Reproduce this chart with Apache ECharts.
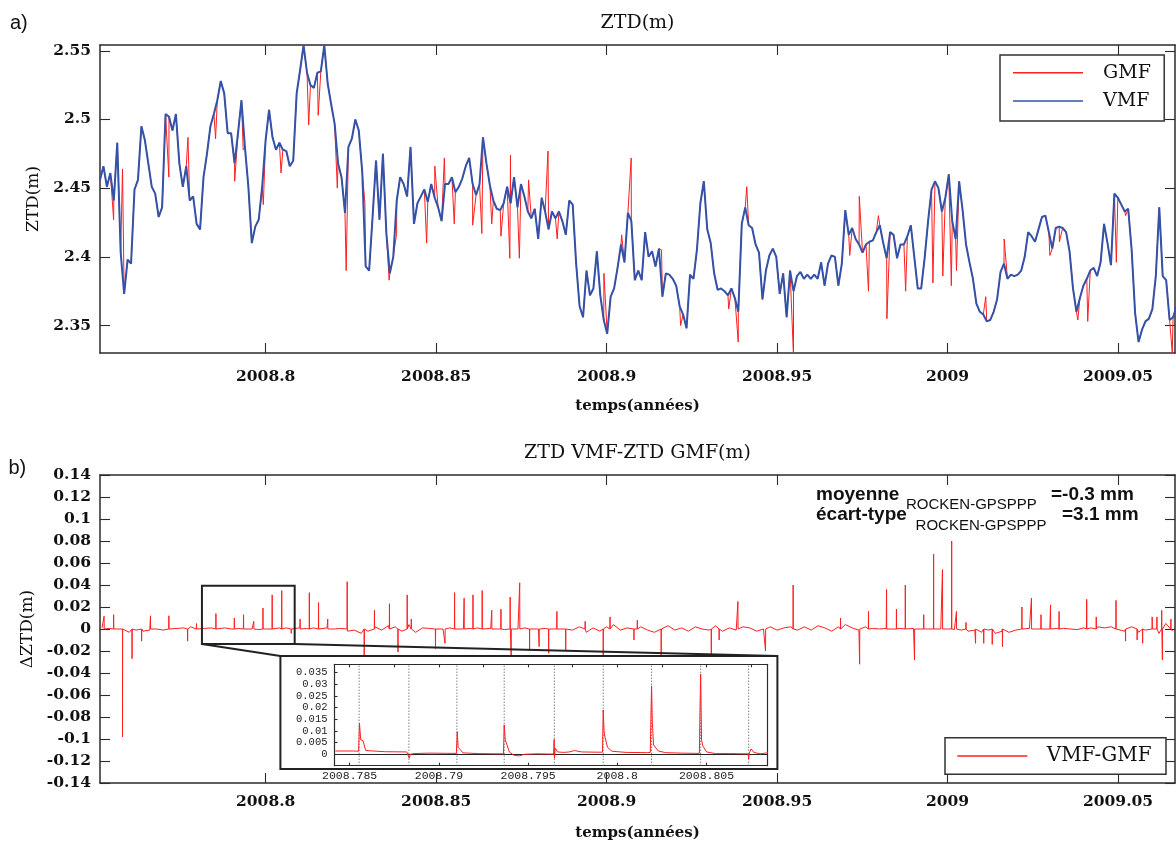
<!DOCTYPE html>
<html><head><meta charset="utf-8">
<script src="https://cdn.jsdelivr.net/npm/echarts@6/dist/echarts.min.js"></script>
<style>html,body{margin:0;padding:0;background:#fff}#c{width:1176px;height:854px}</style>
</head><body><div id="c"></div>
<script>
// ---- data ----
const T0 = 2008.7514, DT = 0.001012;
const vmf = [
2.456,2.466,2.451,2.461,2.441,2.483,2.403,2.373,2.398,2.395,
2.449,2.456,2.495,2.485,2.468,2.451,2.446,2.429,2.436,2.504,
2.502,2.492,2.504,2.468,2.451,2.466,2.441,2.444,2.424,2.420,
2.458,2.475,2.495,2.504,2.514,2.528,2.519,2.490,2.490,2.468,
2.490,2.514,2.480,2.451,2.410,2.422,2.427,2.451,2.485,2.507,
2.487,2.478,2.483,2.478,2.477,2.466,2.470,2.519,2.536,2.554,
2.534,2.525,2.523,2.534,2.535,2.554,2.526,2.511,2.497,2.468,
2.458,2.432,2.480,2.486,2.500,2.492,2.462,2.393,2.390,2.429,
2.470,2.427,2.475,2.417,2.388,2.400,2.441,2.458,2.453,2.444,
2.480,2.424,2.439,2.444,2.449,2.440,2.453,2.443,2.436,2.426,
2.453,2.453,2.458,2.447,2.451,2.457,2.466,2.472,2.453,2.445,
2.453,2.487,2.468,2.452,2.441,2.435,2.434,2.439,2.451,2.439,
2.458,2.436,2.453,2.444,2.433,2.428,2.435,2.413,2.443,2.433,
2.420,2.433,2.428,2.433,2.426,2.416,2.441,2.438,2.395,2.364,
2.356,2.390,2.372,2.377,2.404,2.372,2.354,2.344,2.371,2.377,
2.392,2.409,2.396,2.432,2.426,2.383,2.390,
2.383,2.418,2.400,2.404,2.393,2.406,2.371,2.388,2.387,2.384,
2.379,2.364,2.358,2.348,2.387,2.384,2.405,2.439,2.455,2.420,
2.410,2.388,2.376,2.377,2.375,2.372,2.377,2.370,2.360,2.424,
2.436,2.423,2.421,2.409,2.403,2.369,2.390,2.401,2.406,2.400,
2.373,2.388,2.356,2.390,2.375,2.386,2.389,2.384,2.387,2.384,
2.387,2.384,2.396,2.379,2.395,2.401,2.400,2.379,2.395,2.434,
2.416,2.421,2.413,2.409,2.403,2.409,2.411,2.412,2.418,2.423,
2.410,2.399,2.418,2.416,2.399,2.409,2.409,2.415,2.423,2.400,
2.377,2.377,2.399,2.426,2.449,2.455,2.450,2.433,2.443,2.460,
2.426,2.413,2.455,2.434,2.409,2.396,2.384,2.366,2.360,2.358,
2.353,2.354,2.360,2.369,2.389,2.395,2.384,2.387,2.386,2.387,
2.390,2.400,2.418,2.415,2.411,2.420,2.429,2.430,2.418,2.406,
2.421,2.422,2.421,2.418,2.404,2.377,2.360,2.370,2.379,2.384,
2.390,2.392,2.386,2.396,2.424,2.410,2.394,2.446,2.443,2.438,
2.433,2.435,2.405,2.359,2.338,2.347,2.353,2.355,2.362,2.386,
2.436,2.386,2.383,2.354,2.356,2.364
];
// points where the GMF curve departs from VMF: [time, ZTD GMF]
const gmfSpikes = [
[2008.7554,2.427],[2008.7580,2.464],[2008.7716,2.458],[2008.7772,2.487],[2008.7853,2.486],
[2008.7909,2.455],[2008.7934,2.478],[2008.7993,2.438],[2008.8045,2.461],[2008.8126,2.496],
[2008.8154,2.503],[2008.8210,2.450],[2008.8236,2.390],[2008.8291,2.439],[2008.8362,2.383],
[2008.8384,2.417],[2008.8472,2.410],[2008.8496,2.466],[2008.8524,2.472],[2008.8553,2.424],
[2008.8607,2.423],[2008.8634,2.417],[2008.8663,2.424],[2008.8690,2.415],[2008.8716,2.399],
[2008.8718,2.474],[2008.8744,2.399],[2008.8771,2.456],[2008.8828,2.477],[2008.8855,2.413],
[2008.8992,2.388],[2008.9044,2.416],[2008.9072,2.472],[2008.9161,2.405],[2008.9217,2.350],
[2008.9358,2.362],[2008.9386,2.338],[2008.9411,2.451],[2008.9548,2.328],[2008.9713,2.401],
[2008.9741,2.444],[2008.9768,2.375],[2008.9797,2.430],[2008.9822,2.355],[2008.9877,2.375],
[2008.9957,2.381],[2008.9986,2.386],[2009.0011,2.379],[2009.0026,2.390],[2009.0112,2.371],
[2009.0166,2.413],[2009.0300,2.401],[2009.0328,2.411],[2009.0382,2.354],[2009.0411,2.353],
[2009.0495,2.396],[2009.0522,2.430],[2009.0659,2.330]
];
// VMF-GMF background level, one value every 0.002 yr from 2008.752
const diffT0 = 2008.752, diffDT = 0.002;
const diffBase = [
0.001,0.0005,0.001,
-0.002,-0.003,-0.001,-0.002,-0.001,0,-0.001,
0.001,0.0005,0.001,0.002,0.001,0.0005,
0.001,0.0005,0.001,0,0.0005,0,0,-0.0005,0,0.0005,0.001,0.001,0.0005,0.001,0.0005,0.001,0.0005,0.001,0,0.0005,
-0.002,-0.001,-0.004,-0.002,0.002,-0.001,0.003,
0.002,-0.002,0.004,-0.003,0.001,0.0005,
0.0005,0,0.001,0.0005,0,0.0005,0.001,0,0.0005,0,-0.0005,0.0005,0,0.001,0.0005,0,0.0005,0,0.001,0.0005,
-0.001,0.002,-0.003,0.001,-0.002,0.002,0.004,-0.001,0.001,-0.002,0.002,-0.001,-0.003,0.001,0.003,-0.001,0.001,
-0.002,0.002,0,-0.001,0.003,-0.002,0.001,-0.001,0.002,0.001,-0.002,0,0.002,-0.001,0.001,0.002,-0.001,
0.002,-0.001,0.003,0.001,-0.002,0.002,0.004,0.001,-0.001,0.002,
0.0005,0,0.0005,0,0.0005,0,0.0005,0,0,0.0005,0,0,-0.0005,-0.001,-0.002,-0.001,
-0.003,-0.001,-0.004,-0.002,-0.003,-0.001,
0,0.0005,0,0.0005,0,0.0005,0.0005,0,-0.0005,0.001,
0.001,0.002,0.001,0.002,0.0005,
-0.002,0.002,-0.003,-0.001,0.003,-0.004,0.005,-0.002
];
// isolated VMF-GMF jumps: [time, ΔZTD]
const diffSpikes = [
[2008.7526,0.0117],[2008.7554,0.013],[2008.7580,-0.098],[2008.7608,-0.027],[2008.7636,-0.011],
[2008.7662,0.012],[2008.7716,0.012],[2008.7771,-0.011],[2008.7797,0.005],[2008.7854,0.014],
[2008.7908,0.010],[2008.7935,0.013],[2008.7965,0.007],[2008.7992,0.019],[2008.8019,0.031],
[2008.8047,0.035],[2008.8075,-0.004],[2008.8101,0.009],[2008.8128,0.033],[2008.8155,0.024],
[2008.8182,0.009],[2008.8239,0.043],[2008.8289,-0.025],[2008.8319,0.017],[2008.8363,0.023],
[2008.8388,-0.021],[2008.8415,0.031],[2008.8427,0.009],[2008.8498,-0.018],[2008.8526,-0.013],
[2008.8554,0.033],[2008.8582,0.028],[2008.8608,0.031],[2008.8635,0.035],[2008.8663,0.017],
[2008.8690,0.018],[2008.8717,0.029],[2008.8720,-0.025],[2008.8745,0.042],[2008.8774,-0.019],
[2008.8802,-0.016],[2008.8830,-0.022],[2008.8854,0.016],[2008.8880,-0.019],[2008.8937,0.007],
[2008.8990,-0.025],[2008.9010,0.011],[2008.9080,-0.010],[2008.9090,0.008],[2008.9160,-0.025],
[2008.9307,-0.025],[2008.9330,-0.010],[2008.9385,0.025],[2008.9466,-0.020],[2008.9547,0.040],
[2008.9686,0.010],[2008.9742,-0.032],[2008.9768,0.016],[2008.9821,0.036],[2008.9850,0.018],
[2008.9876,0.040],[2008.9903,-0.028],[2008.9930,0.013],[2008.9959,0.068],[2008.9985,0.054],
[2009.0012,0.080],[2009.0026,0.016],[2009.0054,0.006],[2009.0082,-0.013],[2009.0106,-0.013],
[2009.0131,-0.014],[2009.0161,-0.016],[2009.0218,0.020],[2009.0246,0.028],[2009.0274,0.013],
[2009.0302,0.022],[2009.0327,0.016],[2009.0408,0.027],[2009.0436,0.011],[2009.0494,0.026],
[2009.0522,-0.011],[2009.0556,-0.010],[2009.0572,-0.013],[2009.0600,0.011],[2009.0614,0.011],
[2009.0628,0.017],[2009.0630,-0.028],[2009.0655,0.009]
];
// zoomed detail (inset): [time, ΔZTD]
const insetData = [
[2008.7842,0.0014],[2008.7852,0.0014],[2008.78550,0.0013],[2008.78555,0.0133],[2008.78562,0.0062],[2008.78575,0.0058],[2008.78590,0.0016],
[2008.7870,0.0011],[2008.7882,0.0010],[2008.78830,0.0009],[2008.78834,-0.0017],[2008.78840,0.0000],[2008.7886,0.0003],
[2008.7895,0.0005],[2008.7905,0.0004],[2008.79098,0.0004],[2008.79103,0.0097],[2008.79108,0.0030],[2008.79120,0.0020],[2008.79135,0.0006],
[2008.7922,0.0003],[2008.7932,0.0002],[2008.79362,0.0002],[2008.79366,0.0126],[2008.79372,0.0062],[2008.79380,0.0055],[2008.79395,0.0010],
[2008.7942,-0.0004],[2008.7945,-0.0007],[2008.7948,0.0000],[2008.7955,0.0002],[2008.7962,0.0001],
[2008.79643,0.0001],[2008.79646,0.0064],[2008.79648,-0.0017],[2008.79652,0.0026],[2008.79665,0.0010],[2008.7970,0.0008],
[2008.7973,0.0010],[2008.7976,0.0016],[2008.7980,0.0010],[2008.7988,0.0009],
[2008.79917,0.0009],[2008.79921,0.0190],[2008.79926,0.0097],[2008.79932,0.0070],[2008.79945,0.0030],[2008.7997,0.0013],
[2008.8005,0.0008],[2008.8017,0.0007],[2008.80185,0.0008],[2008.80188,0.0150],[2008.80192,0.0293],[2008.80196,0.0143],[2008.80203,0.0040],[2008.8023,0.0014],[2008.8027,0.0007],
[2008.8036,0.0005],[2008.8044,0.0004],[2008.80460,0.0004],[2008.80463,0.0176],[2008.80467,0.0344],[2008.80472,0.0060],[2008.80480,0.0035],[2008.8050,0.0010],[2008.8055,0.0003],
[2008.8063,0.0003],[2008.8071,0.0002],[2008.80733,0.0002],[2008.80736,-0.0020],[2008.80740,0.0005],[2008.80750,0.0023],[2008.80765,0.0008],[2008.8080,0.0002],[2008.8085,0.0007]
];
const dayMarks = [2008.78553,2008.78832,2008.79101,2008.79366,2008.79647,2008.79921,2008.80192,2008.80467,2008.80736];
// ticks
const xTicks = [2008.8,2008.85,2008.9,2008.95,2009,2009.05];
const topYTicks = [2.35,2.4,2.45,2.5,2.55];
const botYTicks = [-0.14,-0.12,-0.1,-0.08,-0.06,-0.04,-0.02,0,0.02,0.04,0.06,0.08,0.1,0.12,0.14];
const insetXTicks = [2008.785,2008.79,2008.795,2008.8,2008.805];
const insetXMinor = [2008.785,2008.7875,2008.79,2008.7925,2008.795,2008.7975,2008.8,2008.8025,2008.805,2008.8075];
const insetYTicks = [0,0.005,0.01,0.015,0.02,0.025,0.03,0.035];
// zoom rectangle (data units of panel b)
const zoomBoxT = [2008.7813,2008.8085], zoomBoxV = [-0.0136,0.0394];

// ---- layout / style ----
const X_MIN = 2008.7514, X_MAX = 2009.0667;
const IX = [2008.78415, 2008.8084], IY = [-0.0049, 0.0386];
const AX = '#2b2b2b';
const RED = '#ff1f1f', BLUE = '#3352a8';
const fmt = v => String(v);
const labStyle = {fontFamily:'DejaVu Serif', fontWeight:'bold', fontSize:15.5, color:'#111'};
const insetLabX = {fontFamily:'Liberation Mono', fontSize:11.5, lineHeight:11, color:'#222'};
const insetLabY = {fontFamily:'Liberation Mono', fontSize:10.5, lineHeight:9, color:'#222'};
const IB = {x:280.4, y:656, w:497, h:113};
const IG = {left:334.5, top:664.3, width:432.7, height:101.4};

function line(w){return {show:true,onZero:false,lineStyle:{color:AX,width:w}};}
function axisDef(grid,pos,min,max,ticks,showLab,len,lab,extra){
  return Object.assign({gridIndex:grid,type:'value',position:pos,min:min,max:max,
    axisLine:line(grid===2?1.2:1.5),
    axisTick:{show:true,inside:true,length:len,customValues:ticks,lineStyle:{color:AX,width:1.1}},
    axisLabel:Object.assign({show:showLab,customValues:ticks,formatter:fmt,hideOverlap:false,
      showMinLabel:true,showMaxLabel:true},lab),
    splitLine:{show:false}},extra||{});
}
const nameSerifBold = {fontFamily:'DejaVu Serif',fontWeight:'bold',fontSize:15,color:'#111'};
const nameSerif = {fontFamily:'DejaVu Serif',fontSize:17,color:'#111'};

const vmfData = vmf.map((v,i)=>[T0+i*DT, v]);
const gmfData = vmfData.concat(gmfSpikes).sort((a,b)=>a[0]-b[0]);
const EPS = 0.00004;
const diffData = diffBase.map((v,i)=>[diffT0+i*diffDT, v]);
diffSpikes.forEach(([t,v])=>{diffData.push([t-EPS,0],[t,v],[t+EPS,0]);});
diffData.sort((a,b)=>a[0]-b[0]);
// dotted day separators in the inset, drawn as vertical segments spanning the inset axis
const dayLines = [];
dayMarks.forEach(t=>{dayLines.push([t,IY[0]],[t,IY[1]],[t,null]);});

const chart = echarts.init(document.getElementById('c'), null, {renderer:'canvas'});
const option = {
  animation:false,
  backgroundColor:'#fff',
  grid:[
    {left:100, top:45, width:1075, height:308, show:false},
    {left:100, top:475, width:1075, height:308, show:false},
    {left:IG.left, top:IG.top, width:IG.width, height:IG.height, show:false}
  ],
  xAxis:[
    axisDef(0,'bottom',X_MIN,X_MAX,xTicks,true,10,{margin:16,...labStyle},
      {name:'temps(années)',nameLocation:'middle',nameGap:46,nameTextStyle:nameSerifBold}),
    axisDef(0,'top',X_MIN,X_MAX,xTicks,false,10,{}),
    axisDef(1,'bottom',X_MIN,X_MAX,xTicks,true,10,{margin:11,...labStyle},
      {name:'temps(années)',nameLocation:'middle',nameGap:43,nameTextStyle:nameSerifBold}),
    axisDef(1,'top',X_MIN,X_MAX,xTicks,false,10,{}),
    axisDef(2,'bottom',IX[0],IX[1],insetXTicks,true,3,{margin:5,...insetLabX},{z:8}),
    axisDef(2,'top',IX[0],IX[1],insetXMinor,false,3,{},{z:8})
  ],
  yAxis:[
    axisDef(0,'left',2.33,2.5542,topYTicks,true,10,{margin:9,...labStyle},
      {name:'ZTD(m)',nameLocation:'middle',nameGap:57,nameTextStyle:nameSerif}),
    axisDef(0,'right',2.33,2.5542,topYTicks,false,10,{}),
    axisDef(1,'left',-0.14,0.14,botYTicks,true,10,{margin:9,...labStyle},
      {name:'ΔZTD(m)',nameLocation:'middle',nameGap:57,nameTextStyle:nameSerif}),
    axisDef(1,'right',-0.14,0.14,botYTicks,false,10,{}),
    axisDef(2,'left',IY[0],IY[1],insetYTicks,true,3,{margin:7,...insetLabY},{z:8}),
    axisDef(2,'right',IY[0],IY[1],[],false,3,{},{z:8})
  ],
  legend:[
    {data:['GMF','VMF'], left:1000, top:55, orient:'vertical', icon:'rect', itemWidth:70, itemHeight:1.5,
     itemGap:8.3, padding:[7.7,13.4,10,13], borderColor:'#333', borderWidth:1.5, backgroundColor:'#fff',
     selectedMode:false, textStyle:{fontFamily:'DejaVu Serif', fontSize:19, color:'#111', lineHeight:20, padding:[0,0,0,15]}},
    {data:['VMF-GMF'], left:945, top:737.7, orient:'vertical', icon:'rect', itemWidth:70, itemHeight:1.5,
     padding:[7.3,14.3,7.3,12.3], borderColor:'#333', borderWidth:1.5, backgroundColor:'#fff',
     selectedMode:false, textStyle:{fontFamily:'DejaVu Serif', fontSize:20, color:'#111', lineHeight:22, padding:[0,0,0,14.4]}}
  ],
  series:[
    {name:'GMF', type:'line', xAxisIndex:0, yAxisIndex:0, data:gmfData, showSymbol:false, symbol:'none',
     color:RED, lineStyle:{color:RED, width:1}, z:2, silent:true},
    {name:'VMF', type:'line', xAxisIndex:0, yAxisIndex:0, data:vmfData, showSymbol:false, symbol:'none',
     color:BLUE, lineStyle:{color:BLUE, width:2}, z:3, silent:true},
    {name:'VMF-GMF', type:'line', xAxisIndex:2, yAxisIndex:2, data:diffData, showSymbol:false, symbol:'none',
     color:RED, lineStyle:{color:RED, width:1}, z:2, silent:true},
    {name:'days', type:'line', xAxisIndex:4, yAxisIndex:4, data:dayLines, showSymbol:false, symbol:'none',
     connectNulls:false, color:'#444', lineStyle:{color:'#444', width:1, type:[1,2]}, z:8, silent:true},
    {name:'zoom', type:'line', xAxisIndex:4, yAxisIndex:4, data:insetData, showSymbol:false, symbol:'none',
     color:RED, lineStyle:{color:RED, width:1}, z:9, silent:true,
     markLine:{silent:true, symbol:['none','none'], precision:6, label:{show:false}, animation:false,
       data:[{yAxis:0, lineStyle:{type:'solid', color:'#222', width:1.2}}]}}
  ]
};
chart.setOption(option);

const tl = chart.convertToPixel({xAxisIndex:2, yAxisIndex:2}, [zoomBoxT[0], zoomBoxV[1]]);
const br = chart.convertToPixel({xAxisIndex:2, yAxisIndex:2}, [zoomBoxT[1], zoomBoxV[0]]);
function txt(text,x,y,font,align){
  return {type:'text', z:10, style:{text:text, x:x, y:y, font:font, fill:'#111',
    align:align||'left', textAlign:align||'left', verticalAlign:'middle', textVerticalAlign:'middle'}};
}
const S = '"Liberation Sans", Arial, sans-serif';
chart.setOption({graphic:{elements:[
  {type:'rect', z:3, shape:{x:IB.x, y:IB.y, width:IB.w, height:IB.h}, style:{fill:'#fff', stroke:'#222', lineWidth:2}},
  {type:'rect', z:4, shape:{x:tl[0], y:tl[1], width:br[0]-tl[0], height:br[1]-tl[1]}, style:{fill:null, stroke:'#222', lineWidth:2}},
  {type:'line', z:4, shape:{x1:tl[0], y1:br[1], x2:IB.x, y2:IB.y}, style:{stroke:'#222', lineWidth:2}},
  {type:'line', z:4, shape:{x1:br[0], y1:br[1], x2:IB.x+IB.w, y2:IB.y}, style:{stroke:'#222', lineWidth:2}},
  txt('ZTD(m)', 637.5, 23.5, '19px "DejaVu Serif"', 'center'),
  txt('ZTD VMF-ZTD GMF(m)', 637.5, 453.5, '19px "DejaVu Serif"', 'center'),
  txt('a)', 10, 23.5, '20px '+S),
  txt('b)', 8.5, 468, '20px '+S),
  txt('moyenne', 816, 494.4, 'bold 19px '+S),
  txt('ROCKEN-GPSPPP', 906, 504.8, '15px '+S),
  txt('=-0.3 mm', 1051, 494.4, 'bold 19px '+S),
  txt('écart-type', 816, 515, 'bold 19px '+S),
  txt('ROCKEN-GPSPPP', 915.6, 525.8, '15px '+S),
  txt('=3.1 mm', 1062, 515, 'bold 19px '+S)
]}});
</script>
</body></html>
